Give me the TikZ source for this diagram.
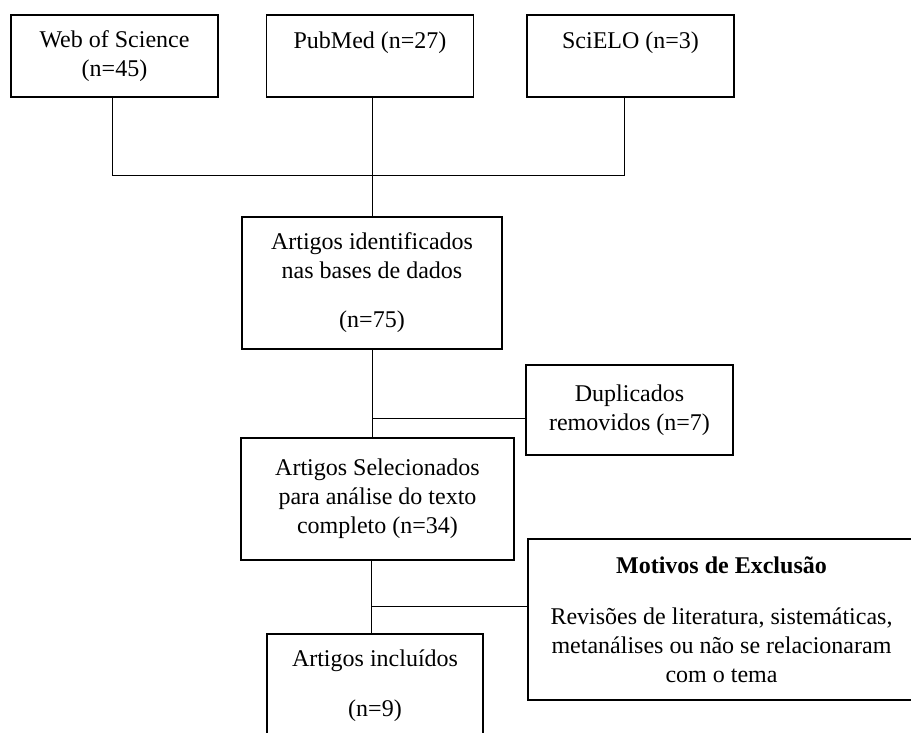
\documentclass[tikz,border=0pt]{standalone}
\usepackage{fontspec}
\setmainfont{Liberation Serif}
\usepackage{tikz}
\usetikzlibrary{shapes, positioning}
\tikzstyle{source} = [rectangle, minimum width=207pt, minimum height=82pt, draw=black, line width=1.8pt, text centered, align=center, inner sep=0pt, font=\fontsize{24}{29}\selectfont]
\tikzstyle{process} = [rectangle, draw=black, line width=1.8pt, text centered, align=center, inner sep=0pt, font=\fontsize{24}{29}\selectfont]
\tikzstyle{line} = [draw, line width=0.8pt]

\begin{document}
\begin{tikzpicture}[x=1pt, y=-1pt, node distance=250pt, auto]
            \path [use as bounding box, clip] (0,0) rectangle (911,733);

            % Nodes of flowchart
            % Sources
            \node (web) [source] at (114.5,56) {Web of Science\\(n=45)};
            \node (pub) [source, right of=web, xshift=5.5pt, text depth=31pt] {PubMed (n=27)};
            \node (sci) [source, right of=pub, xshift=10.5pt, text depth=31pt] {SciELO (n=3)};

            % Main line
            \node (ident) [process, below of=pub, xshift=2pt, yshift=23pt, minimum width=260pt, minimum height=132pt] {Artigos identificados\\nas bases de dados\\[20pt](n=75)};
            \node (sel) [process, below of=ident, xshift=5.5pt, yshift=34pt, minimum width=273pt, minimum height=122pt] {Artigos Selecionados\\para análise do texto\\completo (n=34)};
            \node (incl) [process, below of=sel, xshift=-2.5pt, yshift=63pt, minimum width=216pt, minimum height=104pt] {Artigos incluídos\\[21pt](n=9)};

            % Right line
            \node (dup) [process, right of=ident, xshift=7.5pt, yshift=-127pt, minimum width=207pt, minimum height=90pt] {Duplicados\\removidos (n=7)};
            \node (mot) [process, right of=sel, xshift=94pt, yshift=-120.5pt, minimum width=387pt, minimum height=161pt] {\textbf{Motivos de Exclusão}\\[22pt]Revisões de literatura, sistemáticas,\\metanálises ou não se relacionaram\\com o tema};

            % Other
            \coordinate (join) at ([yshift=-78pt]ident.north |- pub.south);
            \coordinate (trunk) at ([xshift=-4pt]incl.north);

            % Draw lines
            % Sources
            \path [line] ([xshift=-2.5pt]web.south) |- (join) -| ([xshift=-6.5pt]sci.south);
            \path [line] (ident.north |- pub.south) -- (ident.north);

            % Main line
            \path [line] (ident.south) -- (ident.south |- sel.north);
            \path [line] (trunk |- sel.south) -- (trunk);

            % Right line
            \path [line] ([yshift=-8pt]dup.west) -- ([yshift=-8pt]dup.west -| ident.south);
            \path [line] ([yshift=13.5pt]mot.west) -- ([yshift=13.5pt]mot.west -| trunk);
        \end{tikzpicture}
\end{document}
